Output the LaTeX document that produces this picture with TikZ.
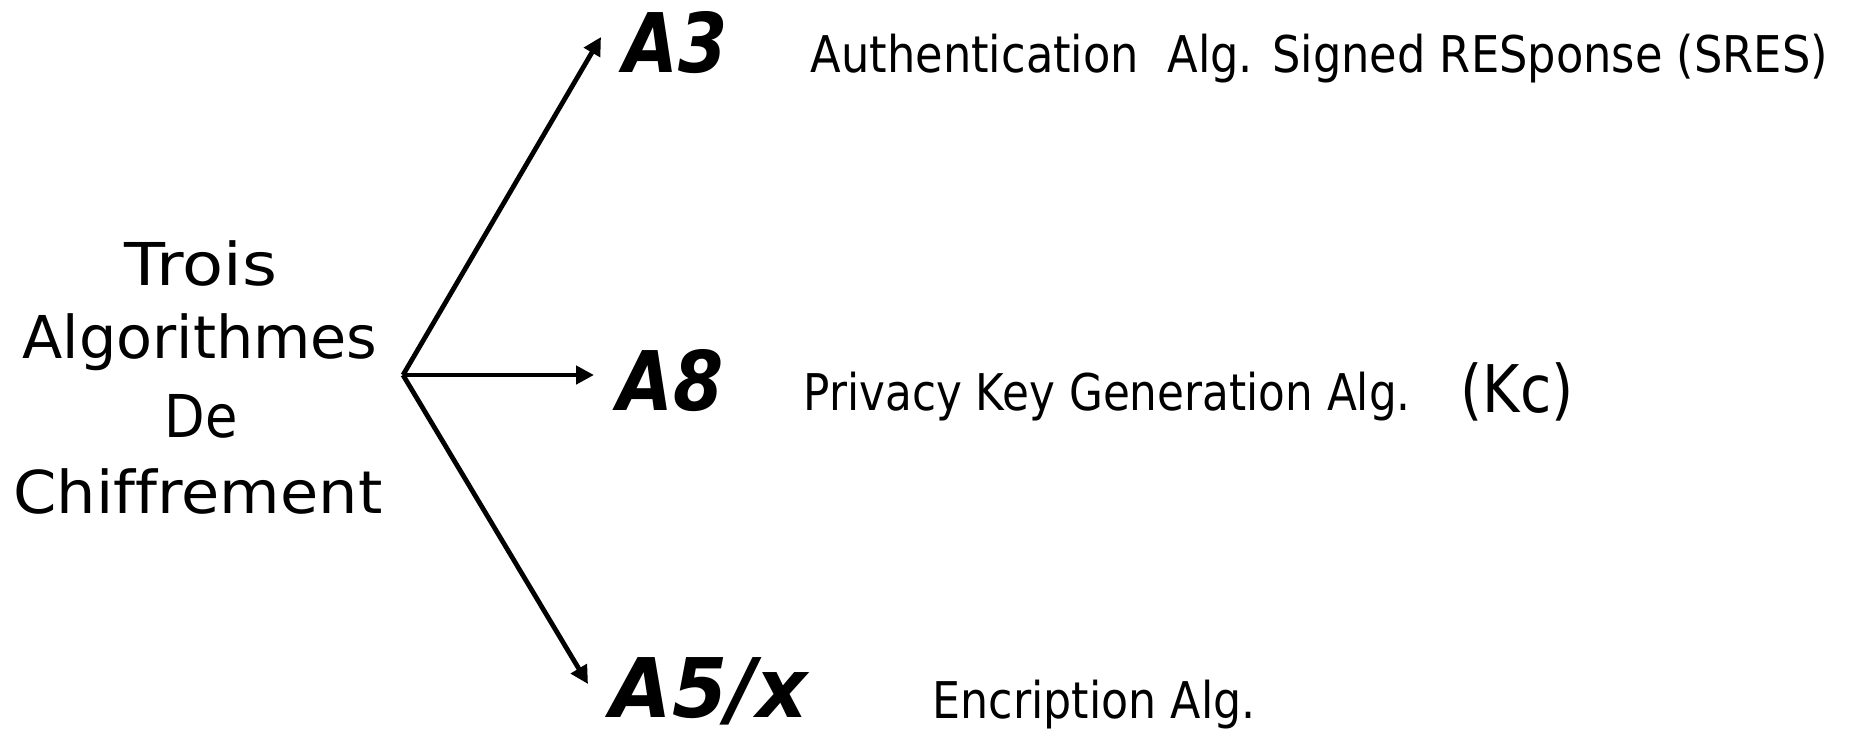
\documentclass[tikz,border=0pt]{standalone}
\usepackage{fontspec}
\setmainfont{DejaVu Sans}[Ligatures=NoCommon]
\usetikzlibrary{arrows.meta}
% set a piece of text to a given width, keeping its natural height
\newcommand\fitto[2]{\resizebox{#1}{\height}{#2}}

\begin{document}
\begin{tikzpicture}[x=0.1mm,y=-0.1mm,
  conn/.style={line width=0.48mm,-{Triangle[length=1.8mm,width=1.8mm]}},
  lead/.style={anchor=base,inner sep=0pt,font=\fontsize{16.8}{20}\selectfont},
  algname/.style={anchor=base west,inner sep=0pt,font=\fontsize{23.4}{28}\selectfont\bfseries\itshape},
  desc/.style={anchor=base west,inner sep=0pt,font=\fontsize{14.4}{17}\selectfont},
  ]
\useasboundingbox (0,0) rectangle (1850,732);

% title on the left, one line per node
\node[lead] (l1) at (201,285) {\fitto{15.2mm}{Trois}};
\node[lead] (l2) at (200,358) {\fitto{35.5mm}{Algorithmes}};
\node[lead] (l3) at (201,437) {\fitto{7.3mm}{De}};
\node[lead] (l4) at (198,513) {\fitto{36.9mm}{Chiffrement}};

% the three algorithms
\node[algname] (a3) at (623,72)  {\fitto{10.4mm}{A3}};
\node[algname] (a8) at (617,410) {\fitto{10.6mm}{A8}};
\node[algname] (a5) at (610,717) {\fitto{19.7mm}{A5/x}};

% their descriptions
\node[desc] (d3) at (810,72)  {\fitto{101.7mm}{Authentication\ \ Alg. Signed RESponse (SRES)}};
\node[desc] (d8) at (803,410) {\fitto{60.7mm}{Privacy Key Generation Alg.}};
\node[desc,font=\fontsize{18.7}{22}\selectfont] (kc) at (1460,412) {\fitto{11.3mm}{(Kc)}};
\node[desc] (d5) at (932,718) {\fitto{32.3mm}{Encription Alg.}};

% branching arrows
\coordinate (hub) at (403,375);
\coordinate (t3) at (601,37);
\coordinate (t8) at (594,375);
\coordinate (t5) at (588,684);
\draw[conn] (hub) -- (t3);
\draw[conn] (hub) -- (t8);
\draw[conn] (hub) -- (t5);
\end{tikzpicture}
\end{document}
